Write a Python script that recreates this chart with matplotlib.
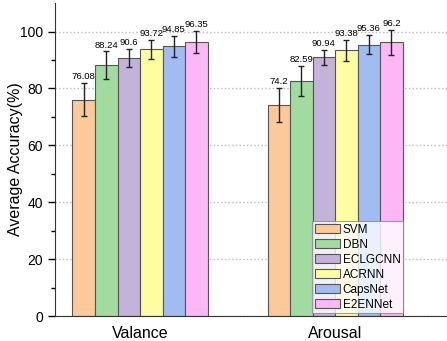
import numpy as np
import matplotlib
matplotlib.use('Agg')
import matplotlib.pyplot as plt

plt.rcParams['font.family'] = ['Liberation Sans', 'DejaVu Sans']

groups = ['Valance', 'Arousal']
methods = ['SVM', 'DBN', 'ECLGCNN', 'ACRNN', 'CapsNet', 'E2ENNet']
valance = [76.08, 88.24, 90.6, 93.72, 94.85, 96.35]
arousal = [74.2, 82.59, 90.94, 93.38, 95.36, 96.2]
valance_err = [5.9, 4.8, 3.2, 3.3, 3.7, 3.8]
arousal_err = [6.0, 5.4, 2.6, 3.7, 3.4, 4.3]
labels_v = ['76.08', '88.24', '90.6', '93.72', '94.85', '96.35']
labels_a = ['74.2', '82.59', '90.94', '93.38', '95.36', '96.2']
colors = ['#FCC99A', '#A2DBA0', '#C3B3D8', '#FFFDA2', '#A0BCF0', '#FDB6F6']

fig = plt.figure(figsize=(4.47, 3.41), dpi=100)
ax = fig.add_axes([0.123, 0.073, 0.877, 0.918])

w = 0.1154
x = np.arange(len(groups))
for i, m in enumerate(methods):
    vals = [valance[i], arousal[i]]
    errs = [valance_err[i], arousal_err[i]]
    pos = x + (i - 2.5) * w
    ax.bar(pos, vals, w, color=colors[i], edgecolor='#555555', linewidth=0.8,
           label=m, zorder=2)
    ax.errorbar(pos, vals, yerr=errs, fmt='none', ecolor='#222222',
                elinewidth=1.0, capsize=2.5, capthick=1.0, zorder=3)
    for p, v, e, t in zip(pos, vals, errs, [labels_v[i], labels_a[i]]):
        ax.text(p, v + e + 0.6, t, ha='center', va='bottom', fontsize=6.8,
                zorder=4)

ax.set_xlim(-0.436, 1.574)
ax.set_ylim(0, 110)
ax.set_xticks(x)
ax.set_xticklabels(groups, fontsize=11.5)
ax.tick_params(axis='x', length=0, pad=7)
ax.set_yticks(np.arange(0, 101, 20))
ax.set_yticks(np.arange(10, 101, 20), minor=True)
ax.tick_params(axis='y', labelsize=10, direction='out', length=5, width=1)
ax.tick_params(axis='y', which='minor', direction='out', length=3, width=1)
ax.set_ylabel('Average Accuracy(%)', fontsize=11.5, va='center')
ax.yaxis.set_label_coords(-0.1, 0.5)
ax.yaxis.grid(True, linestyle=':', color='#bbbbbb', linewidth=1, zorder=0)
ax.set_axisbelow(True)
for s in ['top', 'right']:
    ax.spines[s].set_visible(False)
ax.spines['left'].set_color('#333333')
ax.spines['bottom'].set_color('#333333')

leg = ax.legend(loc='lower right', bbox_to_anchor=(0.888, 0.01), fontsize=8.5,
                frameon=True, fancybox=False, edgecolor='#888888',
                handlelength=2.2, handleheight=0.85, handletextpad=0.2,
                labelspacing=0.25, borderpad=0.2, borderaxespad=0)
leg.get_frame().set_linewidth(0.8)
leg.set_zorder(5)

fig.savefig('out.png', dpi=100)
